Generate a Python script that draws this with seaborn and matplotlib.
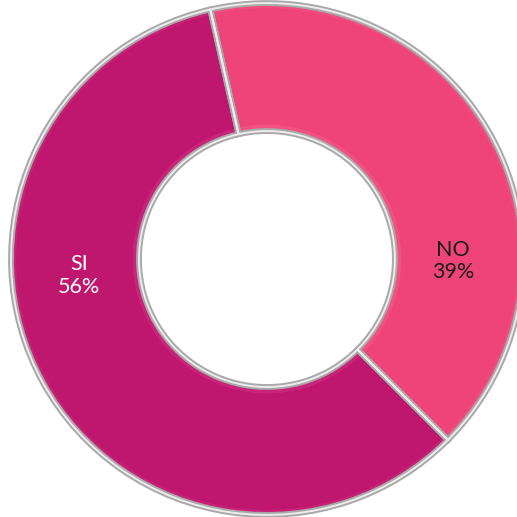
import numpy as np
import seaborn as sns
import matplotlib.pyplot as plt

# data
labels = ['SI', 'NO']
values = [56, 39]
colors = ['#BF176D', '#EF4479']
text_colors = ['white', '#1a1a1a']

sns.set_theme(style='white')
plt.rcParams['font.family'] = ['Lato', 'DejaVu Sans']

fig = plt.figure(figsize=(5.17, 5.17), dpi=100)
ax = fig.add_axes([0, 0, 1, 1])

common = dict(startangle=-45, counterclock=False)

ax.pie(values, colors=colors, radius=1.0,
       wedgeprops=dict(width=0.5, edgecolor='none'), **common)

# soft highlight along inner and outer rims (bevel look)
ax.pie(values, colors=['#E0469A', '#F8739A'], radius=0.525,
       wedgeprops=dict(width=0.025, edgecolor='none', alpha=0.3), **common)
ax.pie(values, colors=['#D8358A', '#F35E8C'], radius=1.0,
       wedgeprops=dict(width=0.02, edgecolor='none', alpha=0.35), **common)

# grey edges with a light inner line
ax.pie(values, colors=['none', 'none'], radius=1.0,
       wedgeprops=dict(width=0.5, edgecolor='#a9a9a9', linewidth=4.2), **common)
ax.pie(values, colors=['none', 'none'], radius=1.0,
       wedgeprops=dict(width=0.5, edgecolor='#ececec', linewidth=1.4), **common)

# labels placed in the ring
label_pos = [(-0.735, -0.065), (0.727, -0.008)]
for lab, val, col, (x, y) in zip(labels, values, text_colors, label_pos):
    ax.text(x, y, f'{lab}\n{val}%', ha='center', va='center', color=col,
            fontsize=15.5, linespacing=1.15)

ax.set_xlim(-1.043, 0.977)
ax.set_ylim(-1.008, 1.012)
ax.set_aspect('equal')
ax.axis('off')

plt.savefig('out.png', dpi=100)
